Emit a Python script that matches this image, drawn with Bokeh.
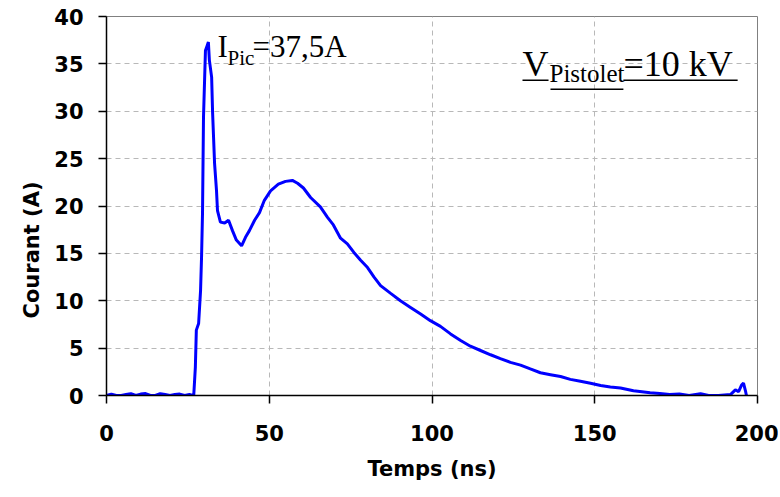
from bokeh.plotting import figure
from bokeh.models import Label, FixedTicker, Title
from bokeh.embed import file_html
from bokeh.resources import INLINE

# ---- data ----
temps_ns = [0, 1.5, 3, 4.5, 6, 7.5, 9, 10.5, 12, 13.5, 15, 16.5, 18, 19.5, 21, 22.5, 24, 25.5, 26.5,
            26.8, 27.3, 27.6, 28.3, 28.9, 29.2, 29.5, 29.8, 30.4, 31.0, 31.3, 31.6, 32.3, 32.6, 33.2,
            33.8, 34.1, 35.0, 36.3, 37.5, 38.7, 39.9, 41.5, 42.7, 43.9, 45.5, 47.0, 48.5, 50.4, 52.8,
            55.0, 57.1, 58.7, 60.5, 62.7, 65.7, 67.9, 69.7, 71.9, 74.0, 76.0, 78.0, 80.2, 82.2, 84.2,
            87.2, 90.3, 93.4, 96.5, 99.5, 102.6, 105.7, 108.8, 111.8, 114.9, 118.0, 121.0, 124.1,
            127.2, 130.2, 133.3, 136.4, 139.5, 142.5, 145.6, 148.7, 151.8, 154.8, 157.9, 161.9,
            164.5, 167.0, 170.0, 173.0, 176.0, 179.0, 182.5, 185.0, 188.0, 191.7, 193.2, 194.2,
            195.1, 195.7, 196.3, 196.6, 197.0]
courant_A = [0.0, 0.15, 0.0, 0.0, 0.1, 0.2, 0.0, 0.15, 0.2, 0.0, 0.0, 0.2, 0.1, 0.0, 0.1, 0.15, 0.0, 0.1, 0.0,
             0.0, 3.0, 6.9, 7.6, 11.1, 14.6, 19.3, 29.4, 36.4, 37.0, 37.3, 35.4, 33.6, 29.8, 24.5,
             21.6, 19.5, 18.3, 18.2, 18.5, 17.4, 16.4, 15.8, 16.7, 17.4, 18.5, 19.3, 20.6, 21.6, 22.3,
             22.6, 22.7, 22.4, 21.9, 20.9, 19.9, 18.8, 18.0, 16.6, 16.0, 15.1, 14.3, 13.5, 12.5, 11.6,
             10.8, 10.0, 9.3, 8.6, 7.9, 7.3, 6.5, 5.8, 5.2, 4.75, 4.3, 3.9, 3.5,
             3.2, 2.8, 2.4, 2.2, 2.0, 1.7, 1.5, 1.3, 1.06, 0.9, 0.8, 0.5,
             0.4, 0.3, 0.2, 0.1, 0.15, 0.0, 0.2, 0.0, 0.0, 0.1, 0.6, 0.4,
             1.1, 1.3, 0.5, 0.0, 0.0]
x_ticks = [0, 50, 100, 150, 200]
y_ticks = [0, 5, 10, 15, 20, 25, 30, 35, 40]

# annotation anchors (data units)
ipic_anchor = (34.1, 36.8)
vpist_anchor = (127.8, 35.0)
underline_main_y = 33.26
underline_sub_y = 32.31
underline_segments = [(127.8, 135.8, underline_main_y),
                      (136.4, 158.8, underline_sub_y),
                      (158.8, 193.9, underline_main_y)]

p = figure(width=778, height=489, x_range=(0, 200), y_range=(0, 40),
           output_backend="svg", toolbar_location=None,
           min_border_left=106, min_border_right=21, min_border_top=16, min_border_bottom=94)
p.background_fill_color = "white"
p.border_fill_color = "white"
p.outline_line_color = "#808080"
p.outline_line_width = 1

# grid
for g in (p.xgrid, p.ygrid):
    g.grid_line_color = "#b8b8b8"
    g.grid_line_dash = "5 4"
    g.grid_line_width = 1

# axes
tick_font = "DejaVu Sans"
p.xaxis.ticker = FixedTicker(ticks=x_ticks)
p.yaxis.ticker = FixedTicker(ticks=y_ticks)
for ax in (p.xaxis, p.yaxis):
    ax.axis_line_color = "black"
    ax.axis_line_width = 1.5
    ax.major_tick_line_color = "black"
    ax.major_tick_line_width = 1.5
    ax.major_tick_in = 0
    ax.major_tick_out = 8
    ax.minor_tick_line_color = None
    ax.major_label_text_font = tick_font
    ax.major_label_text_font_style = "bold"
    ax.major_label_text_font_size = "21px"
    ax.major_label_text_color = "black"
p.xaxis.major_label_standoff = 21
p.yaxis.major_label_standoff = 15
p.xaxis.axis_label = "Temps (ns)"
p.xaxis.axis_label_text_font = tick_font
p.xaxis.axis_label_text_font_style = "bold"
p.xaxis.axis_label_text_font_size = "21px"
p.xaxis.axis_label_text_color = "black"
p.xaxis.axis_label_standoff = 13

# y-axis title, placed lower than the frame centre as in the reference
p.add_layout(Title(text="Courant (A)", align="left", offset=77, standoff=16,
                   text_font=tick_font, text_font_style="bold", text_font_size="21px",
                   text_color="black"), "left")

# data line
p.line(temps_ns, courant_A, line_color="#0000ff", line_width=3)

serif = "Liberation Serif"
# I_Pic = 37,5A
ix, iy = ipic_anchor
p.add_layout(Label(x=ix, y=iy, text="I", text_font=serif, text_font_size="31px",
                   text_baseline="alphabetic", text_align="left", text_color="black"))
p.add_layout(Label(x=ix, y=iy, x_offset=10, y_offset=-11, text="Pic", text_font=serif,
                   text_font_size="21px", text_baseline="alphabetic", text_align="left",
                   text_color="black"))
p.add_layout(Label(x=ix, y=iy, x_offset=35, text="=37,5A", text_font=serif, text_font_size="31px",
                   text_baseline="alphabetic", text_align="left", text_color="black"))

# V_Pistolet = 10 kV (underlined)
vx, vy = vpist_anchor
p.add_layout(Label(x=vx, y=vy, text="V", text_font=serif, text_font_size="36px",
                   text_baseline="alphabetic", text_align="left", text_color="black"))
p.add_layout(Label(x=vx, y=vy, x_offset=27, y_offset=-10, text="Pistolet", text_font=serif,
                   text_font_size="25px", text_baseline="alphabetic", text_align="left",
                   text_color="black"))
p.add_layout(Label(x=vx, y=vy, x_offset=101, text="=10 kV", text_font=serif, text_font_size="36px",
                   text_baseline="alphabetic", text_align="left", text_color="black"))
p.segment(x0=[s[0] for s in underline_segments], x1=[s[1] for s in underline_segments],
          y0=[s[2] for s in underline_segments], y1=[s[2] for s in underline_segments],
          line_color="black", line_width=1.5)

open("out.html", "w").write(file_html(p, INLINE))
